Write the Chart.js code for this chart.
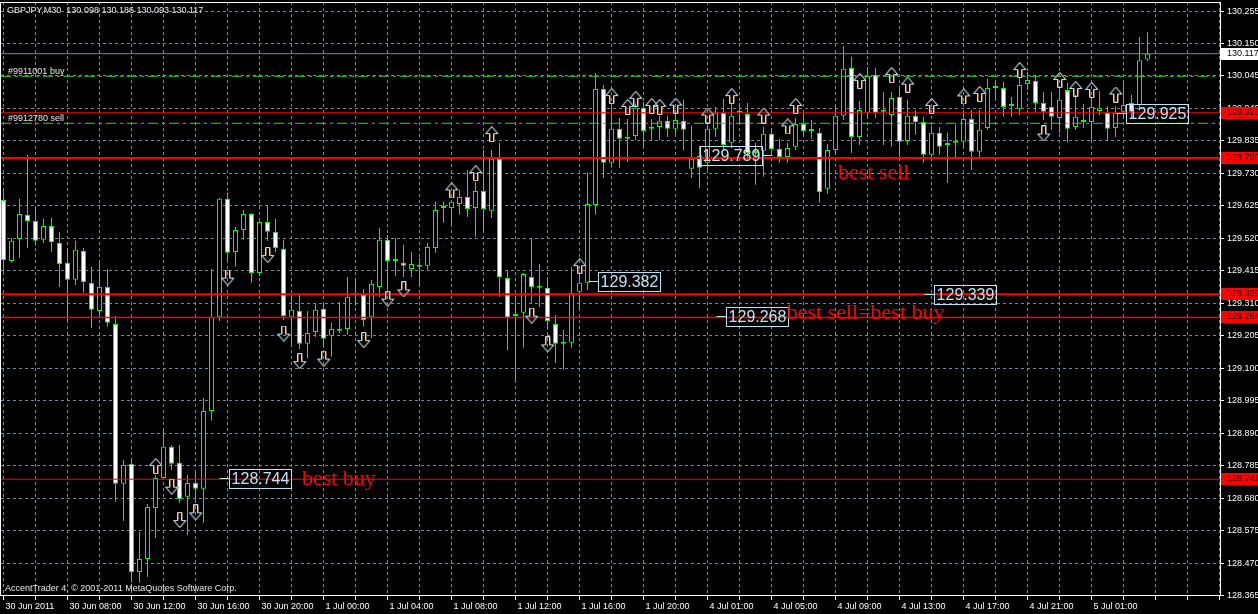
<!DOCTYPE html>
<html>
<head>
<meta charset="utf-8">
<title>GBPJPY,M30</title>
<script src="https://cdn.jsdelivr.net/npm/chart.js@4.4.0/dist/chart.umd.min.js"></script>
<style>
  html, body { margin: 0; padding: 0; background: #000; }
  #wrap { width: 1258px; height: 614px; }
</style>
</head>
<body>
<div id="wrap"><canvas id="chart" width="1258" height="614"></canvas></div>
<script>
// ---- data ----
const symbol = 'GBPJPY,M30';
const copyright = 'AccentTrader 4, \u00a9 2001-2011 MetaQuotes Software Corp.';

// one label every 8 bars, starting at bar 0
const timeLabels = ['30 Jun 2011', '30 Jun 08:00', '30 Jun 12:00', '30 Jun 16:00', '30 Jun 20:00',
  '1 Jul 00:00', '1 Jul 04:00', '1 Jul 08:00', '1 Jul 12:00', '1 Jul 16:00', '1 Jul 20:00',
  '4 Jul 01:00', '4 Jul 05:00', '4 Jul 09:00', '4 Jul 13:00', '4 Jul 17:00', '4 Jul 21:00', '5 Jul 01:00'];

const priceTicks = [130.255, 130.150, 130.045, 129.940, 129.835, 129.730, 129.625, 129.520, 129.415,
  129.310, 129.205, 129.100, 128.995, 128.890, 128.785, 128.680, 128.575, 128.470, 128.365];

const opens = [
  129.644, 129.447, 129.518, 129.596, 129.576, 129.515, 129.560, 129.505, 129.441, 129.386,
  129.479, 129.376, 129.285, 129.363, 129.243, 128.726, 128.791, 128.441, 128.483, 128.648,
  128.745, 128.846, 128.794, 128.684, 128.729, 128.710, 128.962, 129.266, 129.648, 129.476,
  129.547, 129.599, 129.408, 129.573, 129.541, 129.486, 129.266, 129.285, 129.179, 129.217,
  129.292, 129.205, 129.221, 129.227, 129.337, 129.337, 129.266, 129.363, 129.515, 129.447,
  129.441, 129.421, 129.428, 129.431, 129.489, 129.618, 129.618, 129.631, 129.654, 129.618,
  129.673, 129.609, 129.777, 129.392, 129.269, 129.279, 129.395, 129.360, 129.360, 129.243,
  129.179, 129.182, 129.347, 129.376, 129.628, 130.003, 129.764, 129.874, 129.842, 129.851,
  129.942, 129.874, 129.880, 129.900, 129.874, 129.900, 129.745, 129.787, 129.764, 129.874,
  129.926, 129.829, 129.926, 129.922, 129.796, 129.803, 129.858, 129.809, 129.783, 129.816,
  129.890, 129.867, 129.861, 129.680, 129.806, 129.916, 130.071, 129.848, 129.926, 130.049,
  129.929, 129.919, 129.977, 129.835, 129.916, 129.896, 129.790, 129.861, 129.822, 129.829,
  129.832, 129.906, 129.800, 129.877, 130.006, 130.006, 129.948, 129.939, 130.019, 130.029,
  129.958, 129.945, 129.909, 130.000, 129.880, 129.896, 129.896, 129.932, 129.926, 129.877,
  129.929, 129.958, 129.951, 130.098];

const highs = [
  129.677, 129.521, 129.648, 129.790, 129.622, 129.583, 129.586, 129.541, 129.489, 129.512,
  129.489, 129.428, 129.450, 129.421, 129.269, 128.804, 128.807, 128.571, 128.661, 128.755,
  128.907, 128.852, 128.852, 128.755, 128.765, 129.004, 129.421, 129.651, 129.667, 129.557,
  129.612, 129.602, 129.576, 129.628, 129.583, 129.515, 129.337, 129.337, 129.285, 129.308,
  129.314, 129.247, 129.314, 129.395, 129.392, 129.356, 129.386, 129.554, 129.531, 129.521,
  129.499, 129.476, 129.457, 129.505, 129.638, 129.638, 129.644, 129.677, 129.741, 129.703,
  129.806, 129.806, 129.829, 129.418, 129.331, 129.408, 129.518, 129.437, 129.395, 129.272,
  129.224, 129.428, 129.408, 129.732, 130.055, 130.016, 129.958, 129.909, 129.906, 129.955,
  129.961, 129.906, 129.916, 129.916, 129.922, 129.968, 129.884, 129.819, 129.887, 129.945,
  129.971, 129.958, 129.958, 129.958, 129.829, 129.880, 129.877, 129.842, 129.829, 129.909,
  129.926, 129.903, 129.877, 129.825, 129.948, 130.142, 130.107, 129.964, 130.074, 130.071,
  129.993, 129.993, 130.010, 129.968, 129.935, 129.913, 129.884, 129.880, 129.861, 129.887,
  129.935, 129.935, 129.935, 130.036, 130.032, 130.026, 129.977, 130.042, 130.058, 130.049,
  129.993, 129.993, 130.006, 130.023, 129.984, 129.955, 129.974, 129.997, 129.948, 129.948,
  130.023, 129.984, 130.171, 130.186];

const lows = [
  129.411, 129.441, 129.457, 129.489, 129.496, 129.505, 129.476, 129.363, 129.250, 129.369,
  129.344, 129.230, 129.266, 129.234, 128.668, 128.606, 128.406, 128.406, 128.425, 128.551,
  128.739, 128.771, 128.665, 128.561, 128.674, 128.600, 128.930, 129.253, 129.444, 129.428,
  129.515, 129.376, 129.398, 129.512, 129.476, 129.256, 129.169, 129.162, 129.133, 129.201,
  129.166, 129.137, 129.214, 129.208, 129.301, 129.234, 129.198, 129.331, 129.353, 129.398,
  129.395, 129.395, 129.366, 129.418, 129.473, 129.570, 129.563, 129.596, 129.589, 129.525,
  129.541, 129.586, 129.331, 129.159, 129.062, 129.166, 129.311, 129.298, 129.224, 129.117,
  129.095, 129.166, 129.289, 129.353, 129.596, 129.715, 129.748, 129.748, 129.767, 129.838,
  129.812, 129.838, 129.838, 129.848, 129.855, 129.806, 129.715, 129.683, 129.741, 129.848,
  129.806, 129.812, 129.887, 129.774, 129.693, 129.719, 129.790, 129.764, 129.764, 129.806,
  129.848, 129.842, 129.635, 129.664, 129.790, 129.903, 129.796, 129.822, 129.909, 129.909,
  129.822, 129.816, 129.780, 129.822, 129.855, 129.764, 129.774, 129.790, 129.699, 129.783,
  129.812, 129.741, 129.783, 129.871, 129.968, 129.913, 129.913, 129.919, 130.000, 129.929,
  129.903, 129.871, 129.861, 129.829, 129.871, 129.877, 129.832, 129.919, 129.838, 129.848,
  129.909, 129.909, 129.942, 130.093];

const closes = [
  129.450, 129.512, 129.599, 129.576, 129.512, 129.560, 129.508, 129.437, 129.386, 129.483,
  129.379, 129.289, 129.363, 129.247, 128.726, 128.787, 128.441, 128.483, 128.651, 128.745,
  128.846, 128.791, 128.677, 128.729, 128.710, 128.962, 129.266, 129.648, 129.473, 129.547,
  129.599, 129.408, 129.573, 129.541, 129.489, 129.269, 129.289, 129.179, 129.214, 129.289,
  129.195, 129.227, 129.221, 129.331, 129.337, 129.256, 129.373, 129.515, 129.447, 129.447,
  129.431, 129.437, 129.428, 129.492, 129.612, 129.618, 129.638, 129.654, 129.615, 129.673,
  129.615, 129.777, 129.395, 129.263, 129.269, 129.405, 129.363, 129.360, 129.253, 129.179,
  129.179, 129.344, 129.376, 129.631, 130.003, 129.764, 129.874, 129.842, 129.842, 129.942,
  129.867, 129.874, 129.900, 129.874, 129.903, 129.871, 129.777, 129.748, 129.874, 129.926,
  129.822, 129.916, 129.926, 129.796, 129.796, 129.858, 129.809, 129.783, 129.812, 129.890,
  129.867, 129.867, 129.670, 129.806, 129.916, 130.068, 129.848, 129.935, 130.045, 129.926,
  129.929, 129.974, 129.832, 129.916, 129.896, 129.790, 129.861, 129.816, 129.822, 129.829,
  129.906, 129.800, 129.871, 130.006, 130.006, 129.945, 129.948, 130.016, 130.032, 129.958,
  129.929, 129.913, 129.968, 129.874, 129.913, 129.896, 129.945, 129.942, 129.874, 129.926,
  129.951, 129.929, 130.096, 130.117];

// signal arrows (bar index, price of arrow centre)
const upArrowBars = [19, 56, 59, 61, 72, 76, 78, 79, 81, 82, 84, 88, 91, 95, 98, 99, 107, 111, 113, 116, 120, 122, 127, 132, 134, 136, 139];
const upArrowPrices = [128.784, 129.675, 129.731, 129.857, 129.430, 129.980, 129.945, 129.971, 129.948, 129.945, 129.949, 129.917, 129.980,
  129.917, 129.882, 129.948, 130.029, 130.048, 130.017, 129.948, 129.979, 129.987, 130.064, 130.032, 130.003, 130.000, 129.985];
const downArrowBars = [21, 22, 24, 28, 33, 35, 37, 40, 45, 48, 50, 66, 68, 130];
const downArrowPrices = [128.717, 128.609, 128.634, 129.393, 129.466, 129.212, 129.123, 129.131, 129.191, 129.325, 129.355, 129.270, 129.177, 129.859];

// horizontal levels
const redLevels = [129.926, 129.780, 129.339, 129.264, 128.741];
const orderPrices = [130.044, 129.892];
const orderNames = ['#9911001 buy', '#9912780 sell'];
const bidPrice = closes[closes.length - 1];

// boxed price labels
const tagBars = [27, 73, 96, 89, 115, 139];
const tagPrices = [128.744, 129.382, 129.789, 129.268, 129.339, 129.925];
const tagSides = [1, 1, -1, 1, 1, 1];

// red notes
const noteTexts = ['best sell', 'best sell=best buy', 'best buy'];
const noteBars = [104.3, 97.9, 37.3];
const notePrices = [129.730, 129.277, 128.741];

// ---- styles ----
const CANDLE = '#00ff00';
const GRID = '#778899';
const ORDER_GREEN = '#32cd32';
const TAG_BLUE = '#bfe2f2';
const redWidths = [1, 2, 2, 1.5, 1];

const xMin = -0.3125, xMax = 152.0625;
const yMin = 128.3634, yMax = 130.2842;

Chart.defaults.font.family = '"Liberation Sans", Arial, sans-serif';
Chart.defaults.font.size = 9;

function makeArrow(up) {
    const c = document.createElement('canvas');
    c.width = 15; c.height = 16;
    const g = c.getContext('2d');
    let pts = [[7.5, 0.5], [13.5, 7.5], [9.5, 7.5], [9.5, 15.5], [5.5, 15.5], [5.5, 7.5], [1.5, 7.5]];
    if (!up) pts = pts.map(p => [p[0], 16 - p[1]]);
    const path = (dx) => {
        g.beginPath();
        pts.forEach((p, i) => i ? g.lineTo(p[0] + dx, p[1]) : g.moveTo(p[0] + dx, p[1]));
        g.closePath();
    };
    g.lineWidth = 1;
    g.strokeStyle = '#7a5a48';
    path(1); g.stroke();
    g.strokeStyle = '#b4e0f8';
    path(0); g.stroke();
    return c;
}

function level(v, color, width, dash) {
    return {
        type: 'line',
        data: [{ x: xMin, y: v }, { x: xMax, y: v }],
        borderColor: color,
        borderWidth: width,
        borderDash: dash || [],
        pointRadius: 0,
        order: 2
    };
}

const bodies = opens.map((o, i) => ({ x: i, y: [Math.min(o, closes[i]), Math.max(o, closes[i])] }));
const wicks = highs.map((h, i) => ({ x: i, y: [lows[i], h] }));
const bodyFill = opens.map((o, i) => closes[i] < o ? '#ffffff' : '#000000');

const datasets = [
    {
        type: 'bar', data: bodies, grouped: false, order: 5,
        backgroundColor: bodyFill, borderColor: CANDLE, borderWidth: 1,
        borderSkipped: false, barThickness: 5, minBarLength: 2, inflateAmount: 0
    },
    {
        type: 'bar', data: wicks, grouped: false, order: 6,
        backgroundColor: CANDLE, borderWidth: 0, barThickness: 1, inflateAmount: 0
    },
    level(bidPrice, GRID, 1),
    ...orderPrices.map(v => level(v, ORDER_GREEN, 1, [10, 4, 3, 4])),
    ...redLevels.map((v, i) => level(v, '#ff0000', redWidths[i])),
    {
        type: 'scatter', order: 1, pointStyle: makeArrow(true), pointRadius: 3,
        data: upArrowBars.map((b, i) => ({ x: b, y: upArrowPrices[i] }))
    },
    {
        type: 'scatter', order: 1, pointStyle: makeArrow(false), pointRadius: 3,
        data: downArrowBars.map((b, i) => ({ x: b, y: downArrowPrices[i] }))
    }
];

const overlay = {
    id: 'mtOverlay',
    afterDraw(chart) {
        const ctx = chart.ctx;
        const ca = chart.chartArea;
        const xs = chart.scales.x, ys = chart.scales.y;
        const px = v => xs.getPixelForValue(v);
        const py = v => ys.getPixelForValue(v);
        const last = opens.length - 1;
        ctx.save();

        // frame
        ctx.strokeStyle = '#ffffff';
        ctx.lineWidth = 1;
        ctx.strokeRect(ca.left - 0.5, ca.top + 0.5, ca.right - ca.left + 1, ca.bottom - ca.top - 1);

        // header and copyright
        ctx.font = '9px "Liberation Sans"';
        ctx.textAlign = 'left';
        ctx.textBaseline = 'middle';
        ctx.fillStyle = '#e8e8e8';
        const ohlc = [opens[last], highs[last], lows[last], closes[last]].map(v => v.toFixed(3)).join(' ');
        ctx.fillText(symbol + '  ' + ohlc, 7, 11);
        ctx.fillText(copyright, 5, 589);

        // order labels
        orderNames.forEach((t, i) => ctx.fillText(t, 8, py(orderPrices[i]) - 5));

        // boxed price labels
        ctx.strokeStyle = TAG_BLUE;
        ctx.fillStyle = TAG_BLUE;
        ctx.font = '16px "Liberation Sans"';
        ctx.textAlign = 'center';
        tagPrices.forEach((p, i) => {
            const ax = Math.round(px(tagBars[i])) + 0.5;
            const ay = Math.round(py(p)) + 0.5;
            const side = tagSides[i];
            const bw = 62, bh = 19;
            const bx = side > 0 ? ax + 10 : ax - 10 - bw;
            ctx.beginPath();
            ctx.moveTo(ax, ay);
            ctx.lineTo(ax + side * 10, ay);
            ctx.stroke();
            ctx.strokeRect(bx, ay - 9, bw, bh);
            ctx.fillText(p.toFixed(3), bx + bw / 2, ay + 1);
        });

        // red notes
        ctx.font = '22px "Liberation Serif"';
        ctx.fillStyle = '#ff0000';
        ctx.textAlign = 'left';
        noteTexts.forEach((t, i) => ctx.fillText(t, px(noteBars[i]), py(notePrices[i])));

        // price tags on the axis
        ctx.font = '9px "Liberation Sans"';
        const tag = (v, bg, fg) => {
            const y = Math.round(py(v));
            ctx.fillStyle = bg;
            ctx.fillRect(ca.right + 1, y - 6, 40, 12);
            ctx.fillStyle = fg;
            ctx.fillText(v.toFixed(3), ca.right + 7, y);
        };
        redLevels.forEach(v => tag(v, '#ff0000', '#2a0000'));
        tag(bidPrice, '#ffffff', '#000000');
        ctx.restore();
    }
};

new Chart(document.getElementById('chart'), {
    type: 'bar',
    data: { datasets },
    options: {
        responsive: false,
        animation: false,
        devicePixelRatio: 1,
        events: [],
        layout: { autoPadding: false, padding: { left: 1, top: 2, right: 0, bottom: 0 } },
        plugins: { legend: { display: false }, tooltip: { enabled: false } },
        scales: {
            x: {
                type: 'linear', min: xMin, max: xMax, bounds: 'data', offset: false,
                afterBuildTicks: s => {
                    const t = [];
                    for (let i = 0; i <= 152; i += 4) t.push({ value: i });
                    s.ticks = t;
                },
                afterFit: s => { s.height = 18; s.paddingLeft = 0; s.paddingRight = 0; },
                grid: { offset: false, color: GRID, tickLength: 4, tickColor: '#ffffff' },
                border: { display: false, dash: [3, 3] },
                ticks: {
                    color: '#ffffff', autoSkip: false, maxRotation: 0, minRotation: 0,
                    align: 'start', labelOffset: 2, padding: 1,
                    callback: v => (v % 8 === 0 && v / 8 < timeLabels.length) ? timeLabels[v / 8] : ''
                }
            },
            y: {
                type: 'linear', position: 'right', min: yMin, max: yMax, bounds: 'data',
                afterBuildTicks: s => { s.ticks = priceTicks.map(v => ({ value: v })); },
                afterFit: s => { s.width = 38; s.paddingTop = 0; s.paddingBottom = 0; },
                grid: { color: GRID, tickLength: 4, tickColor: '#ffffff' },
                border: { display: false, dash: [3, 3] },
                ticks: { color: '#ffffff', padding: 3, autoSkip: false, callback: v => Number(v).toFixed(3) }
            }
        }
    },
    plugins: [overlay]
});
</script>
</body>
</html>
